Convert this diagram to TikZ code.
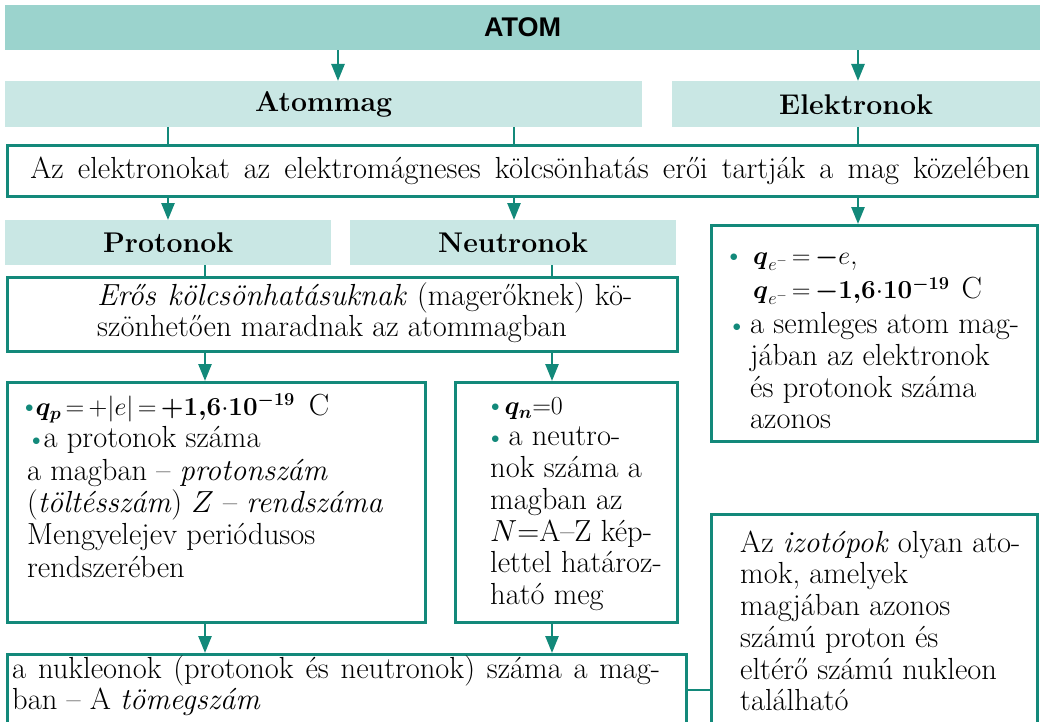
\RequirePackage{fix-cm}
\documentclass[tikz,border=0pt]{standalone}
\usepackage{amsmath}
\usepackage{fontspec}
\newfontfamily\hsans{Liberation Sans}
\usetikzlibrary{arrows.meta}
\definecolor{tealdk}{HTML}{13897A}
\definecolor{barA}{HTML}{9BD3CD}
\definecolor{barB}{HTML}{C9E7E4}
\newcommand{\tb}{\textcolor{tealdk}{\raisebox{2.3pt}{\fontsize{17}{17}\selectfont$\bullet$}}}
\newcommand{\fl}{\rule{0pt}{26pt}}
\newcommand{\mth}[1]{{\fontsize{26}{31}\selectfont$#1$}}
\AtBeginDocument{\thickmuskip=3mu plus 2mu\relax\medmuskip=2mu\relax}
\tikzset{
  bar/.style={fill=barB, draw=none, anchor=north west, inner sep=0pt,
    font=\fontsize{28.5}{32}\selectfont\bfseries},
  box/.style={draw=tealdk, line width=2.6pt, anchor=north west, inner sep=0pt},
  txt/.style={anchor=north west, align=left, inner sep=0pt,
    font=\fontsize{30.5}{31.7}\selectfont},
  arr/.style={draw=tealdk, line width=2.6pt, -{Triangle[width=13pt,length=17pt]}},
  lnk/.style={draw=tealdk, line width=2.6pt},
}
\begin{document}
\begin{tikzpicture}[x=1pt,y=-1pt]
\useasboundingbox (0,0) rectangle (1046,722);
\clip (0,0) rectangle (1046,722);
% column coordinates
\coordinate (cA) at (338,0);
\coordinate (cE) at (858,0);
\coordinate (cP) at (168,0);
\coordinate (cN) at (514,0);
\coordinate (dP) at (205,0);
\coordinate (dN) at (552,0);
\coordinate (cy) at (0,690);
% bars
\node[bar, fill=barA, minimum width=1035pt, minimum height=45pt,
  font=\hsans\fontsize{27}{30}\selectfont\bfseries] (atom) at (5,5) {ATOM};
\node[bar, minimum width=637pt, minimum height=46pt] (mag) at (5,81) {Atommag};
\node[bar, minimum width=368pt, minimum height=46pt] (el) at (672,81) {Elektronok};
\node[bar, minimum width=326pt, minimum height=45pt] (prot) at (5,220) {Protonok};
\node[bar, minimum width=326pt, minimum height=45pt] (neut) at (350,220) {Neutronok};
% boxes
\node[box, minimum width=1030pt, minimum height=51pt,
  font=\fontsize{30.5}{31.7}\selectfont] (force) at (6,144)
  {\hspace*{16pt}\makebox[1000pt][s]{Az elektronokat az elektromágneses kölcsönhatás erői tartják a mag közelében}};
\node[box, minimum width=670pt, minimum height=74pt] (eros) at (6,276) {};
\node[box, minimum width=326pt, minimum height=216pt] (ebox) at (710,224) {};
\node[box, minimum width=418pt, minimum height=240pt] (pbox) at (6,381) {};
\node[box, minimum width=222pt, minimum height=240pt] (nbox) at (454,381) {};
\node[box, minimum width=679pt, minimum height=100pt] (nuc) at (6,653) {};
\node[box, minimum width=326pt, minimum height=240pt] (iso) at (710,513) {};
% texts
\node[txt] (erost) at (97,279) {\fl\makebox[535pt][s]{\textit{Erős kölcsönhatásuknak} (magerőknek) kö-}\\
  szönhetően maradnak az atommagban};
\node[txt, font=\fontsize{30.5}{32.4}\selectfont] (pt) at (25,389)
  {\fl\tb\hspace{2pt}\mth{\boldsymbol{q_p} = {+}|e| = \boldsymbol{+1{,}6}{\cdot}\boldsymbol{10^{-19}}}\hspace{14pt}C\\
  \hspace*{7pt}\tb\hspace{3pt}a protonok száma\\
  \hspace*{2pt}a magban – \textit{protonszám}\\
  \hspace*{2pt}(\textit{töltésszám}) $Z$ – \textit{rendszáma}\\
  \hspace*{2pt}Mengyelejev periódusos\\
  \hspace*{2pt}rendszerében};
\node[txt] (nt) at (490,388)
  {\fl\hspace*{1pt}\tb\hspace{5pt}\mth{\boldsymbol{q_n}{=}0}\\
  \hspace*{1pt}\tb\hspace{9pt}a neutro-\\
  nok száma a\\
  magban az\\
  $N{=}$A–Z kép-\\
  lettel határoz-\\
  ható meg};
\node[txt] (et) at (750,238)
  {\fl\llap{\tb\hspace{12pt}}\hspace*{3pt}\mth{\boldsymbol{q}_{e^-} = \boldsymbol{-}e},\\[3pt]
  \hspace*{3pt}\mth{\boldsymbol{q}_{e^-} = \boldsymbol{-1{,}6}{\cdot}\boldsymbol{10^{-19}}}\hspace{12pt}C\\[3pt]
  \llap{\tb\hspace{9pt}}a semleges atom mag-\\
  jában az elektronok\\
  és protonok száma\\
  azonos};
\node[txt] (it) at (740,526)
  {\fl Az \textit{izotópok} olyan ato-\\
  mok, amelyek\\
  magjában azonos\\
  számú proton és\\
  eltérő számú nukleon\\
  található};
\node[txt] (nct) at (12,652)
  {\fl\makebox[648pt][s]{a nukleonok (protonok és neutronok) száma a mag-}\\
  ban – A \textit{tömegszám}};
% connectors
\draw[arr] (atom.south -| cA) -- (mag.north -| cA);
\draw[arr] (atom.south -| cE) -- (el.north -| cE);
\draw[lnk] (mag.south -| cP) -- (force.north -| cP);
\draw[lnk] (mag.south -| cN) -- (force.north -| cN);
\draw[lnk] (el.south -| cE) -- (force.north -| cE);
\draw[arr] (force.south -| cP) -- (prot.north -| cP);
\draw[arr] (force.south -| cN) -- (neut.north -| cN);
\draw[arr] (force.south -| cE) -- (ebox.north -| cE);
\draw[lnk] (prot.south -| dP) -- (eros.north -| dP);
\draw[lnk] (neut.south -| dN) -- (eros.north -| dN);
\draw[arr] (eros.south -| dP) -- (pbox.north -| dP);
\draw[arr] (eros.south -| dN) -- (nbox.north -| dN);
\draw[arr] (pbox.south -| dP) -- (nuc.north -| dP);
\draw[arr] (nbox.south -| dN) -- (nuc.north -| dN);
\draw[lnk] (nuc.east |- cy) -- (iso.west |- cy);
\end{tikzpicture}
\end{document}
